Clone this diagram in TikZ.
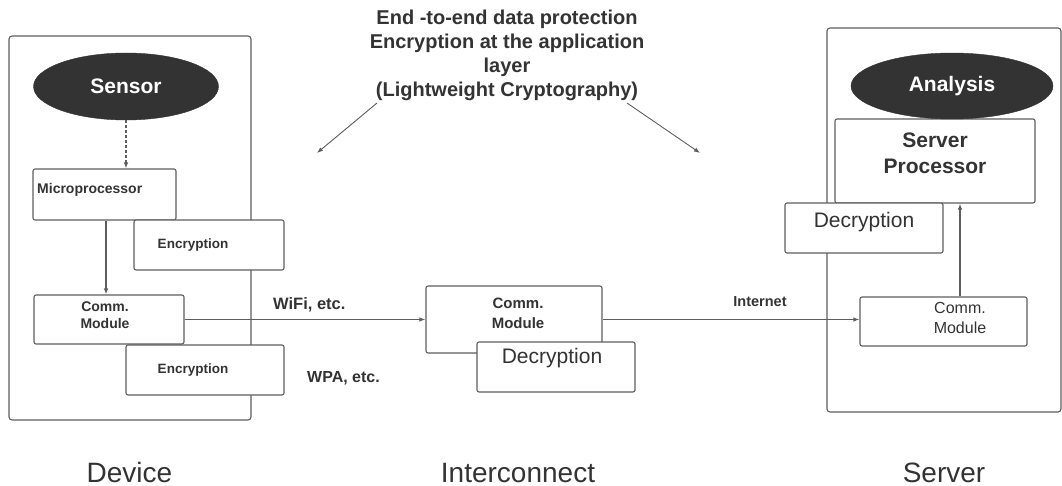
\documentclass[tikz,border=0pt]{standalone}
\usepackage{fontspec}
\setmainfont{Liberation Sans}
\usetikzlibrary{arrows.meta,shapes.geometric}
\definecolor{lc}{HTML}{5E5E5E}
\definecolor{tc}{HTML}{333333}
\definecolor{ef}{HTML}{333333}
\tikzset{
  box/.style={draw=lc, fill=white, rounded corners=2pt, line width=1.1pt, inner sep=0pt},
  cont/.style={draw=lc, rounded corners=3pt, line width=1.1pt, inner sep=0pt},
  blob/.style={ellipse, draw=ef, fill=ef, inner sep=0pt, text=white, font=\fontsize{21}{25}\selectfont\bfseries},
  txt/.style={inner sep=0pt, text=tc, anchor=base},
  conn/.style={draw=lc, line width=1.1pt, -{Latex[length=6pt,width=4.5pt]}},
  bsm/.style={font=\fontsize{14}{17}\selectfont\bfseries},
  big/.style={font=\fontsize{21}{25}\selectfont},
}
\begin{document}
\begin{tikzpicture}[x=1pt,y=-1pt]
\useasboundingbox (0,0) rectangle (1062,486);

% containers
\node[cont, minimum width=242, minimum height=384] (dev) at (130,228) {};
\node[cont, minimum width=234, minimum height=384] (srv) at (944,220) {};

% device
\node[blob, minimum width=185, minimum height=67] (sensor) at (126,86.5) {Sensor};
\node[box, minimum width=143, minimum height=51] (mp) at (104.5,194.5) {};
\node[txt, bsm, anchor=base west] (mpt) at (37,194) {Microprocessor};
\node[box, minimum width=150, minimum height=50] (enc1) at (209,245) {};
\node[txt, font=\fontsize{13.5}{16}\selectfont\bfseries] (enc1t) at (193,248) {Encryption};
\node[box, minimum width=150, minimum height=49] (cm1) at (109,319.5) {};
\node[txt, bsm] (cm1a) at (105,311) {Comm.};
\node[txt, bsm] (cm1b) at (105,328) {Module};
\node[box, minimum width=158, minimum height=50] (enc2) at (205,370) {};
\node[txt, font=\fontsize{13.5}{16}\selectfont\bfseries] (enc2t) at (193,373) {Encryption};

% interconnect
\node[box, minimum width=176, minimum height=67] (ic) at (514,319.5) {};
\node[txt, font=\fontsize{15}{18}\selectfont\bfseries] (ica) at (518,308) {Comm.};
\node[txt, font=\fontsize{15}{18}\selectfont\bfseries] (icb) at (518,328) {Module};
\node[box, minimum width=158, minimum height=50] (dec) at (556,367) {};
\node[txt, big] (dect) at (552,363) {Decryption};

% server
\node[box, minimum width=200, minimum height=84] (sp) at (935,161) {};
\node[txt, font=\fontsize{21}{25}\selectfont\bfseries] (spa) at (935,148) {Server};
\node[txt, font=\fontsize{21}{25}\selectfont\bfseries] (spb) at (935,174) {Processor};
\node[blob, minimum width=202, minimum height=66] (ana) at (952,86) {Analysis};
\node[box, minimum width=158, minimum height=50] (sdec) at (864,228) {};
\node[txt, big] (sdect) at (864,228) {Decryption};
\node[box, minimum width=167, minimum height=49] (scm) at (943.5,321.5) {};
\node[txt, font=\fontsize{16}{19}\selectfont] (scma) at (960,313) {Comm.};
\node[txt, font=\fontsize{16}{19}\selectfont] (scmb) at (960,333) {Module};

% labels
\node[txt, anchor=base west, font=\fontsize{16.5}{20}\selectfont\bfseries] (wifi) at (273,309) {WiFi, etc.};
\node[txt, anchor=base west, font=\fontsize{16}{19}\selectfont\bfseries] (wpa) at (307,382) {WPA, etc.};
\node[txt, font=\fontsize{14.5}{17}\selectfont\bfseries] (inet) at (760,306) {Internet};
\node[inner sep=0pt, text=tc, anchor=north, align=center, font=\fontsize{20}{24}\selectfont\bfseries] (top) at (507,9.5)
  {End -to-end data protection\\Encryption at the application\\layer\\(Lightweight Cryptography)};

\node[txt, font=\fontsize{28}{32}\selectfont] (ldev) at (129.5,482) {Device};
\node[txt, font=\fontsize{28}{32}\selectfont] (lic) at (518,482) {Interconnect};
\node[txt, font=\fontsize{28}{32}\selectfont] (lsrv) at (944,482) {Server};

% connectors
\draw[conn, dash pattern=on 3pt off 2pt] (sensor.south) -- (sensor.south |- mp.north);
\draw[conn] ([xshift=1.5pt]mp.south) -- ([xshift=1.5pt]mp.south |- cm1.north);
\draw[conn] (cm1.east) -- (ic.west);
\draw[conn] (ic.east) -- (ic.east -| scm.west);
\draw[conn] ([xshift=16.5pt]scm.north) -- ([xshift=16.5pt]scm.north |- sp.south);

\coordinate (l0) at (377,103);
\coordinate (l1) at (317,153);
\coordinate (r0) at (627,103);
\coordinate (r1) at (700,153);
\draw[conn, line width=0.9pt] (l0) -- (l1);
\draw[conn, line width=0.9pt] (r0) -- (r1);
\end{tikzpicture}
\end{document}
